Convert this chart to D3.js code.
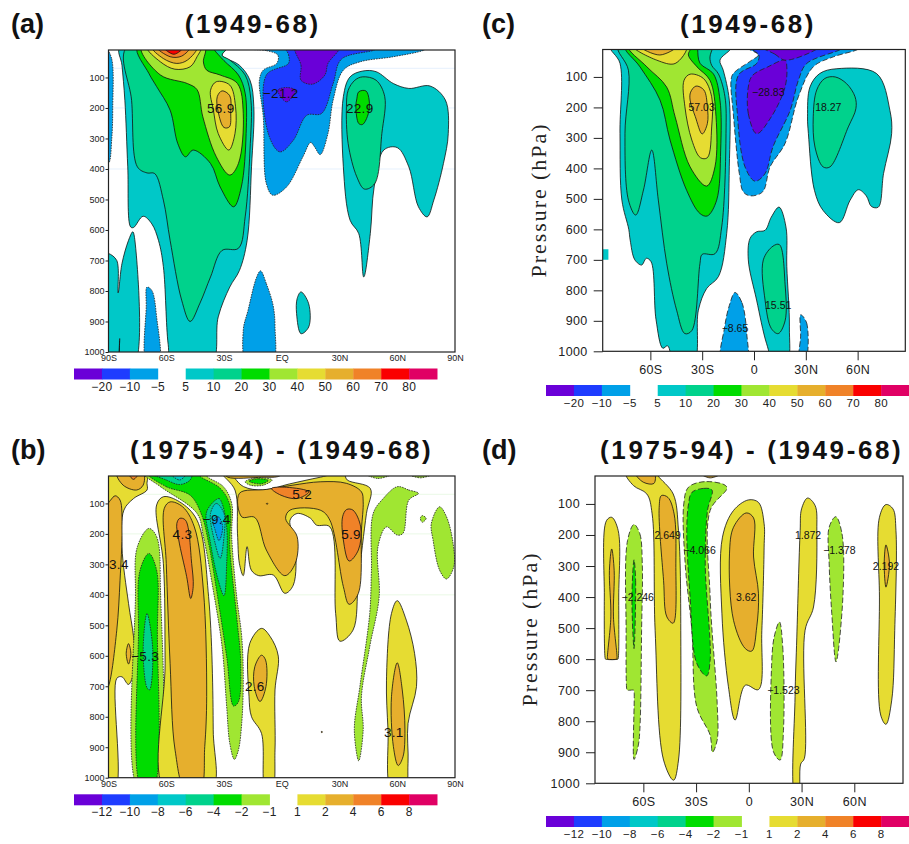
<!DOCTYPE html>
<html><head><meta charset="utf-8">
<script src="https://cdn.jsdelivr.net/npm/d3@7"></script>
<style>html,body{margin:0;padding:0;background:#fff}svg{display:block}</style>
</head><body><svg id="c" width="909" height="844" font-family="'Liberation Sans',Arial,sans-serif"></svg>
<script>
// ---------- data: contour regions as [level, [[lat, hPa], ...]] ----------
const pressureTicks = [100,200,300,400,500,600,700,800,900,1000];
const latTicksWide = [-90,-60,-30,0,30,60,90];
const latTicksNarrow = [-60,-30,0,30,60];
const faintPressures = [70,200,400];

const meanLevels = [-20,-10,-5,null,5,10,20,30,40,50,60,70,80];
const diffLevels = [-12,-10,-8,-6,-4,-2,-1,null,1,2,4,6,8];

const regionsA = [
 [-5,[[-91,5],[-88.3,40],[-87.8,200],[-88.3,300],[-90,382],[-92,382],[-92,5]]],
 [5,[[-84,0],[-83,60],[-81.5,175],[-80,393],[-78.5,590],[-77,592],[-72,555],[-67.5,580],[-64,635],[-61.5,720],[-59,975],[-57,1040],[-36.5,1040],[-33,885],[-27,787],[-22,733],[-18,635],[-15.7,393],[-14.5,196],[-16.5,109],[-22,60],[-31,28],[-30,15],[-28,0]]],
 [10,[[-80.5,0],[-78,175],[-75,393],[-70,413],[-66,415],[-61.5,502],[-58,634],[-52,830],[-47.6,900],[-42.5,840],[-37,754],[-31,667],[-22.5,660],[-19,557],[-16.5,338],[-16,175],[-19,92],[-27,43],[-31,27],[-29,10],[-28,0]]],
 [20,[[-75,0],[-69,87],[-65,130],[-58,207],[-54,317],[-50,360],[-46,338],[-37,382],[-32,459],[-25,524],[-21,459],[-18.5,284],[-19,152],[-22.5,92],[-30,45],[-35,10],[-36,0]]],
 [30,[[-73,0],[-63,92],[-49,120],[-44,140],[-41,229],[-34,360],[-27,420],[-22.5,382],[-20,218],[-23,120],[-32,92],[-39,76],[-40.7,49],[-40,0]]],
 [40,[[-70,0],[-63,49],[-55.5,73],[-47.6,65],[-44,32],[-42,0]]],
 [50,[[-67.5,0],[-61.5,38],[-54.5,54],[-49,43],[-44,0]]],
 [60,[[-65,0],[-58,32],[-52,30],[-47.6,0]]],
 [70,[[-61.5,0],[-56,24],[-51,0]]],
 [40,[[-37,142],[-34,114],[-27,125],[-24,196],[-24.3,284],[-27.5,338],[-33,284],[-35.5,207]]],
 [50,[[-33.5,163],[-31,144],[-27,160],[-26.5,213],[-27.2,262],[-30,264],[-33,213]]],
 [-5,[[-18,5],[-8,12],[-2,27],[-2.6,54],[-9.6,76],[-11.6,109],[-9.6,229],[-8,448],[-4.7,486],[2.5,459],[11,360],[15,313],[17,327],[20,353],[24,284],[26.7,174],[32,76],[40.5,49],[58,32],[74,10],[76,0],[-18,0]]],
 [-10,[[2,0],[3.5,25],[3.5,54],[-8,92],[-7,284],[-1,344],[6,306],[13,224],[20.7,218],[26.7,120],[31,40],[48,10],[50,0]]],
 [-20,[[7,0],[10,60],[10,109],[16,122],[22.4,92],[24,54],[30,0]]],
 [-20,[[-2,142],[2.5,180],[7,142],[2.5,133]]],
 [5,[[-92,677],[-90,677],[-85.7,700],[-85,806],[-83,710],[-79.6,634],[-77.4,606],[-76.6,620],[-76.5,1040],[-83.5,1040],[-84.2,956],[-85.7,1040],[-92,1040]]],
 [-5,[[-70,787],[-67.5,798],[-65,885],[-64,1040],[-70,1040],[-70.4,850]]],
 [-5,[[-11,734],[-8,776],[-4.5,847],[-3.5,918],[-5,1040],[-18,1040],[-20,929],[-17.5,863],[-13,754]]],
 [5,[[10,803],[14,842],[14,918],[10,940],[7.7,874],[8,825]]],
 [5,[[42,79],[49,81],[58,120],[66,136],[77,128],[85,174],[86.5,284],[84,382],[79,502],[75.5,557],[71,524],[66,393],[60,330],[53,338],[48,459],[46,612],[42.6,754],[40,612],[35.5,568],[32,393],[32,163],[35.5,98]]],
 [10,[[42,98],[49,109],[53.5,163],[52,284],[48.3,448],[43,466],[39,426],[34.5,317],[33.6,196],[34.5,142],[38,109]]],
 [20,[[40,147],[43.7,144],[45.4,174],[45,218],[42,254],[40,251],[38.5,196],[39,170]]]
];
const labelsA = [["56.9",-31.7,200],["\u221221.2",-0.5,150],["22.9",40.5,200]];

const regionsC = [
 [5,[[-83,0],[-77.6,55],[-77.6,285],[-76.5,504],[-72.5,600],[-71.7,635],[-69,700],[-65,717],[-62.4,695],[-59.6,706],[-56.7,897],[-52.8,990],[-50,982],[-46,1040],[-35,1040],[-32.2,865],[-27.4,794],[-20.6,755],[-15.8,613],[-14.3,395],[-14.3,176],[-17.8,78],[-19.7,45],[-13.7,10],[-13,0]]],
 [10,[[-78.5,0],[-72.7,78],[-74.7,285],[-72.7,504],[-68.5,553],[-64,471],[-59.2,340],[-55.4,504],[-50.5,713],[-44.8,865],[-40,942],[-36,932],[-31.3,713],[-30,682],[-22.6,680],[-18.7,592],[-16.2,285],[-16.8,165],[-20.6,90],[-24.5,62],[-25.5,35],[-24,5],[-24,0]]],
 [20,[[-74.6,0],[-66,67],[-54.4,176],[-48.6,307],[-39,472],[-31.3,548],[-27,556],[-21.6,504],[-19.3,340],[-19.7,176],[-23.5,90],[-31.3,55],[-32.6,10],[-32.6,0]]],
 [30,[[-72.7,0],[-62,67],[-50.6,133],[-45.7,230],[-37,395],[-27.4,458],[-22.6,395],[-22,230],[-25.5,111],[-33,67],[-38,28],[-36.7,0]]],
 [40,[[-70,0],[-56.3,45],[-45.7,56],[-39,0]]],
 [50,[[-66,0],[-54.5,28],[-44.7,0]]],
 [40,[[-40.5,111],[-37,91],[-29.3,105],[-24.5,165],[-24.5,264],[-27,365],[-31,365],[-36,307],[-40,198]]],
 [50,[[-36.7,150],[-33.6,130],[-29,143],[-27,198],[-27,253],[-30,287],[-34,230],[-37,176]]],
 [-5,[[-5,0],[2.5,28],[-1.3,45],[-12,89],[-13.3,111],[-12,220],[-8.5,417],[-6.2,477],[-2.3,490],[5,477],[9.3,395],[18,318],[25.7,165],[34.3,67],[46,34],[60,10],[62,0]]],
 [-10,[[-3,0],[2.8,28],[1.5,56],[-9,94],[-9.5,231],[-5.2,395],[0.6,442],[6.4,417],[11,329],[21,209],[25.7,111],[30.5,56],[50,10],[52,0]]],
 [-20,[[-3.3,133],[-3.3,220],[1.5,286],[10,231],[18,133],[19,67],[18,45],[8,67],[-1,96]]],
 [-20,[[4,0],[12,25],[18,45],[36,10],[38,0]]],
 [5,[[14.5,527],[18.5,592],[19,722],[20.5,920],[19,1040],[12,1040],[7.3,975],[1.5,832],[-3.3,700],[-2.3,630],[1.5,608],[6.4,603],[10,560]]],
 [10,[[5.4,700],[11,655],[14.7,650],[18,780],[18,900],[14,942],[10,925],[6.4,832]]],
 [-5,[[-11,807],[-7,840],[-4.2,942],[-4.6,1040],[-18.7,1040],[-17,920],[-14.3,850]]],
 [-5,[[27,880],[30.5,907],[29.5,1040],[26.2,1040],[27,950]]],
 [5,[[48,73],[71,89],[78.7,210],[79.7,286],[75,417],[72,527],[68,525],[65,490],[60.4,470],[55.6,505],[49.4,578],[40,538],[35,472],[31.5,286],[31,231],[32.4,133],[38,89]]],
 [10,[[47,100],[53.6,122],[58.5,165],[59,204],[54.6,264],[44,395],[40,395],[35.3,330],[34.3,231],[36.3,143],[41,105]]]
];
const patchC = [[-87.6,665],[-84.3,665],[-84.3,700],[-87.6,700]];
const labelsC = [["57.03",-30.3,200],["\u221228.83",8.3,150],["18.27",43,200],["15.51",14,850],["\u22128.65",-11,925]];

const regionsB = [
 [1,[[-92,0],[-70,0],[-70,34],[-70,56],[-77,84],[-82,122],[-83,242],[-79.6,428],[-77,537],[-76,625],[-79.6,694],[-83,669],[-85.7,674],[-86.5,1040],[-92,1040]]],
 [2,[[-92,125],[-89,90],[-86.5,75],[-84,89],[-83,187],[-84,352],[-85.7,516],[-90,700],[-92,720]]],
 [2,[[-85.7,0],[-82.4,40],[-75.4,56],[-72,40],[-72,0]]],
 [4,[[-79.6,0],[-77,21],[-74.5,0]]],
 [2,[[-79.6,560],[-78.4,592],[-79.6,627],[-80.8,592]]],
 [-1,[[-69,182],[-65,209],[-63,384],[-65.8,1040],[-74.4,1040],[-76,406],[-75,242]]],
 [-2,[[-69,264],[-65,319],[-64.6,516],[-67,1040],[-72.7,1040],[-74.4,516],[-73.6,319]]],
 [-4,[[-70,461],[-67,581],[-68.7,712],[-70,705],[-72,581]]],
 [1,[[-65,105],[-61.5,78],[-53,95],[-44,155],[-38,406],[-35.6,843],[-36.4,1040],[-60.6,1040],[-60.6,625],[-61.5,297]]],
 [2,[[-61,116],[-58,95],[-51.5,111],[-45.4,177],[-40.7,384],[-39,734],[-40,898],[-42.4,1040],[-50,1040],[-55.4,910],[-58,625],[-60,297]]],
 [4,[[-54.5,166],[-53,149],[-50,155],[-46.8,297],[-46,373],[-47.3,412],[-49.4,340],[-53.5,220]]],
 [1,[[-31,0],[-24.3,56],[-23,198],[-22,297],[-20,337],[-18,242],[-15.8,319],[-12,337],[-4.4,335],[1.6,395],[6,368],[7,231],[4.3,155],[8,133],[15,149],[18,171],[25,177],[28,461],[30.2,552],[37,516],[39.8,352],[44,133],[46,51],[34,23],[32,0],[20,14],[4,36],[-9.5,56],[-19.8,45],[-24.3,18],[-26,0]]],
 [-1,[[-72,0],[-63,45],[-44,133],[-40.7,209],[-35.6,384],[-31,570],[-28.6,767],[-27,887],[-24.6,940],[-22.5,909],[-20.8,822],[-20,680],[-20.8,537],[-23.4,406],[-26,209],[-26,100],[-30.3,45],[-39,10],[-39,0]]],
 [-2,[[-70,0],[-60,45],[-47.6,73],[-41.6,138],[-38,231],[-33.6,395],[-28.6,603],[-25,765],[-22.5,751],[-21.3,625],[-23.4,472],[-27,242],[-27,105],[-32,50],[-42.6,10],[-43,0]]],
 [-4,[[-68.4,0],[-60,23],[-53,38],[-47.6,23],[-46.8,0]]],
 [-6,[[-58,0],[-53,23],[-49.5,0]]],
 [-4,[[-39,127],[-32.7,84],[-31,100],[-28.6,177],[-28.6,297],[-30,403],[-33,352],[-37.3,220]]],
 [-6,[[-37,133],[-34,100],[-30,133],[-30,209],[-32,280],[-34.6,231]]],
 [-8,[[-35.7,155],[-33,144],[-30.7,177],[-32.6,222],[-34.6,187]]],
 [2,[[-22,67],[-20.8,144],[-14,146],[-8,253],[1.6,337],[7,297],[8,209],[2,149],[4.3,122],[20,122],[25,155],[32,373],[35,431],[39.8,395],[41.4,187],[42.3,95],[41.4,62],[33.6,34],[20,29],[5.8,40],[-8,54]]],
 [4,[[-5.3,51],[2.5,47],[14,62],[8,84],[-0.4,73]]],
 [4,[[31.6,144],[33.7,120],[37,122],[41,177],[39.8,253],[35,289],[32,220]]],
 [-1,[[-19,29],[-13,16],[-5,23],[-9.5,40],[-16.4,40]]],
 [-2,[[-17,27],[-12,19],[-7,25],[-11,36]]],
 [2,[[-30,0],[1,0],[-2,12],[-10,14],[-28,14]]],
 [-1,[[60,45],[66,56],[71,67],[66,89],[63,198],[60,204],[54.4,177],[50,242],[50.6,406],[45.7,570],[41.4,734],[42.3,843],[40,945],[37.7,843],[40.6,700],[45.7,461],[46.6,319],[47.5,133],[52.7,84]]],
 [-1,[[73,140],[75,149],[73,162],[72,149]]],
 [-1,[[82,111],[85.6,144],[89,231],[89.4,307],[85.6,348],[82,319],[78.6,220],[77.7,166]]],
 [-1,[[44,5],[50,18],[57,5]]],
 [-1,[[66,5],[72,16],[78,5]]],
 [1,[[-10.5,510],[-6,537],[-1.8,601],[-3.5,712],[-3.5,909],[-5,1040],[-8.4,1040],[-10.5,855],[-15.7,800],[-17,734],[-16.6,559]]],
 [2,[[-10.5,598],[-8.4,614],[-8.2,701],[-11.3,750],[-14.3,701],[-14,636]]],
 [1,[[60,419],[64.7,483],[69,592],[70,701],[65.6,822],[65.6,953],[64,1040],[57,1040],[55.2,843],[54.4,680],[57,461]]],
 [2,[[60,623],[62.6,712],[64,843],[63,931],[60.5,960],[58,898],[57,734]]],
 [2,[[-7.6,99],[-7.2,101],[-7.6,103],[-8,101]]],
 [2,[[20.8,848],[21.2,850],[20.8,852],[20.4,850]]]
];
const labelsB = [["3.4",-84.6,300],["\u22125.3",-71,600],["4.3",-51.6,200],["\u22129.4",-33.8,150],["5.2",10.6,70],["5.9",36,200],["2.6",-14,700],["3.1",58.2,850]];

const regionsD = [
 [1,[[-81,154],[-78,143],[-74.3,186],[-74,400],[-74.3,598],[-74.5,600],[-81.5,600],[-81.7,598],[-82.2,400]]],
 [2,[[-78,245],[-76.6,314],[-77,464],[-75,598],[-75.2,600],[-80.2,600],[-80.4,598],[-78.5,464],[-79.3,314]]],
 [-1,[[-65.3,166],[-62,196],[-60.6,293],[-61,507],[-62,829],[-63,882],[-65.3,923],[-65.3,702],[-65.5,700],[-69.2,700],[-69.4,698],[-69.8,507],[-69,218]]],
 [-2,[[-65.3,280],[-64.4,346],[-65.3,566],[-66.5,400]]],
 [1,[[-70,0],[-65.6,41],[-58,68],[-55,132],[-53.3,507],[-48.5,925],[-42.8,990],[-40,925],[-38.7,507],[-40,186],[-43,68],[-51.5,10],[-52,0]]],
 [2,[[-64.6,0],[-60,30],[-54,34],[-53.8,0]]],
 [2,[[-49.7,73],[-46,79],[-42.5,132],[-41.5,293],[-43,484],[-46.6,464],[-48.5,346],[-51,111]]],
 [2,[[-28,0],[-22,16],[-15,0]]],
 [-1,[[-34.3,46],[-24,28],[-12.5,46],[-22,121],[-22,400],[-18,743],[-18,861],[-20.7,900],[-22,845],[-29.6,754],[-32.4,507],[-36.2,293],[-37,100]]],
 [-2,[[-32.4,63],[-25.8,50],[-21,55],[-23.5,121],[-24.8,293],[-22,604],[-24,654],[-29.6,614],[-33.4,400],[-35.3,186],[-34.3,100]]],
 [1,[[-0.2,87],[5.5,95],[8.7,164],[8.7,239],[7.4,507],[5.5,698],[-2,684],[-7.8,796],[-11.6,689],[-15.3,454],[-15,207],[-8.7,121]]],
 [2,[[-1.5,129],[2.7,145],[2.7,271],[5.5,389],[4.5,496],[1.7,574],[-2,566],[-8.7,475],[-11,261],[-8.7,175]]],
 [-1,[[17.4,480],[19.3,561],[19.7,829],[17.8,925],[14,898],[13,614],[14.4,529]]],
 [1,[[33.4,81],[37.7,105],[38.7,186],[36.8,432],[32,507],[31.6,920],[29.5,938],[28.2,1040],[26.3,1040],[26.3,721],[27.3,529],[29.2,186],[30,116]]],
 [-1,[[49.5,141],[53,196],[53.5,400],[49.6,609],[47.2,454],[45.7,293],[45.7,175]]],
 [1,[[78,102],[82,116],[83.7,186],[83,507],[81.3,732],[78,810],[75,780],[74.3,400],[74.3,143]]],
 [2,[[78,232],[80,293],[78,368],[77,293]]]
];
const labelsD = [["2.649",-46.2,200],["\u22124.066",-28,250],["\u22122.246",-63.2,400],["3.62",-1.5,400],["\u22121.523",19.7,700],["1.872",33.7,200],["\u22121.378",51.5,250],["2.192",78,300]];

// ---------- palette ----------
const palette = {purple:"#6a00d8",blue:"#1e3cff",azure:"#00a0e8",teal:"#00c8c8",seagreen:"#00d28c",green:"#00dc00",lime:"#a0e632",yellow:"#e6dc32",gold:"#e6af2d",orange:"#f08228",red:"#fa0000",crimson:"#e00064"};
const ramp = Object.values(palette);
const colorMean = d3.scaleOrdinal(meanLevels.filter(d=>d!==null),ramp);
const colorDiff = d3.scaleOrdinal(diffLevels.filter(d=>d!==null),ramp);

const svg = d3.select("#c");
const slot = 27.93;

function panel(o){
  const x = d3.scaleLinear().domain(o.latDomain).range([o.l,o.r]);
  const y = d3.scaleLinear().domain([10,1000]).range([o.t,o.b]);
  const g = svg.append("g");
  const id = "clip"+o.tag;
  g.append("clipPath").attr("id",id).append("rect").attr("x",o.l).attr("y",o.t).attr("width",o.r-o.l).attr("height",o.b-o.t);
  const plot = g.append("g").attr("clip-path",`url(#${id})`);
  if(o.faint){
    plot.selectAll("line.f").data(faintPressures).join("line").attr("class","f")
      .attr("x1",o.l).attr("x2",o.r).attr("y1",d=>y(d)).attr("y2",d=>y(d))
      .attr("stroke",o.faint).attr("stroke-width",1);
  }
  const line = d3.line().x(d=>x(d[0])).y(d=>y(d[1])).curve(d3.curveCatmullRomClosed.alpha(0.5));
  plot.selectAll("path.r").data(o.regions).join("path").attr("class","r")
    .attr("d",d=>line(d[1])).attr("fill",d=>o.color(d[0]))
    .attr("stroke",d=>d[0]<0?"#222":"#111").attr("stroke-width",0.8)
    .attr("stroke-dasharray",d=>d[0]<0?o.dash:null);
  if(o.patch){
    plot.append("path").attr("d",d3.line().x(d=>x(d[0])).y(d=>y(d[1]))(o.patch)+"Z").attr("fill",o.color(5));
  }
  plot.selectAll("text.l").data(o.labels).join("text").attr("class","l")
    .attr("x",d=>x(d[1])).attr("y",d=>y(d[2])).attr("dy","0.36em").attr("text-anchor","middle")
    .attr("font-size",o.labelSize).attr("letter-spacing",o.labelSpacing).attr("fill","#111").text(d=>d[0]);
  g.append("rect").attr("x",o.l).attr("y",o.t).attr("width",o.r-o.l).attr("height",o.b-o.t)
    .attr("fill","none").attr("stroke","#222").attr("stroke-width",1.2);

  const latFmt = d=>d===0?o.zero:Math.abs(d)+(d<0?"S":"N");
  const ax = g.append("g").attr("transform",`translate(0,${o.b})`)
    .call(d3.axisBottom(x).tickValues(o.latTicks).tickFormat(latFmt).tickSize(o.xTick).tickPadding(o.xPad));
  const ay = g.append("g").attr("transform",`translate(${o.l},0)`)
    .call(d3.axisLeft(y).tickValues(pressureTicks).tickFormat(d3.format("d")).tickSize(o.yTick).tickPadding(o.yPad));
  [ax,ay].forEach(a=>{
    a.select(".domain").remove();
    a.attr("font-family",null);
    a.selectAll("text").attr("font-size",o.tickSize).attr("fill","#222").attr("letter-spacing",o.tickSpacing);
    a.attr("font-size",o.tickSize);
    a.selectAll("line").attr("stroke","#222");
  });

  // title + tag
  g.append("text").attr("x",o.titleX).attr("y",o.titleY).attr("text-anchor","middle")
    .attr("font-size",26).attr("font-weight","bold").attr("letter-spacing",2.6).attr("fill","#111").text(o.title);
  g.append("text").attr("x",o.tagX).attr("y",o.titleY).attr("font-size",27).attr("font-weight","bold").attr("fill","#111").text(`(${o.tag})`);
  if(o.yLabelX){
    g.append("text").attr("transform",`translate(${o.yLabelX},${o.yLabelY}) rotate(-90)`).attr("text-anchor","middle")
      .attr("font-family","'Liberation Serif'").attr("font-size",22).attr("letter-spacing",1.95).attr("fill","#222").text("Pressure (hPa)");
  }

  // colour bar
  const bx = d3.scaleLinear().domain([0,o.barLevels.length]).range([o.barX,o.barX+slot*o.barLevels.length]);
  const bar = g.append("g");
  const segs = o.barLevels.map((v,i)=>({v,i})).filter(d=>d.v!==null);
  bar.selectAll("rect").data(segs).join("rect")
    .attr("x",d=>bx(d.i)).attr("y",o.barY).attr("width",slot+0.4).attr("height",11).attr("fill",d=>o.color(d.v));
  bar.selectAll("text").data(segs).join("text")
    .attr("x",d=>bx(d.v<0?d.i+1:d.i)).attr("y",o.barY+22).attr("text-anchor","middle")
    .attr("font-size",o.barFont).attr("letter-spacing",0.3).attr("fill","#222")
    .text(d=>d.v<0?"\u2212"+(-d.v):d.v);
}

const wide = {latDomain:[-90,90],l:108.5,r:455,latTicks:latTicksWide,zero:"EQ",xTick:0,xPad:3,yTick:3,yPad:1,tickSize:9,tickSpacing:0,labelSize:13.5,labelSpacing:0.3,dash:"1.6,1",barX:74,barFont:12};
const narrow = {latTicks:latTicksNarrow,zero:"0",xTick:9,xPad:5,yTick:9,yPad:6,tickSize:12.5,tickSpacing:0.4,labelSize:10.5,labelSpacing:0,dash:"5.5,2.5",barX:546,barFont:11.5};

panel({...wide,tag:"a",t:50,b:352,regions:regionsA,labels:labelsA,color:colorMean,faint:"#e6f1fd",title:"(1949-68)",titleX:252.7,titleY:33,tagX:11,barLevels:meanLevels,barY:368.5});
panel({...wide,tag:"b",t:476,b:777.7,regions:regionsB,labels:labelsB,color:colorDiff,faint:"#eaf9e6",title:"(1975-94) - (1949-68)",titleX:281.7,titleY:459,tagX:11,barLevels:diffLevels,barY:794.3});
panel({...narrow,tag:"c",latDomain:[-87.6,87.6],l:602.7,r:905.3,t:49.5,b:351.3,regions:regionsC,labels:labelsC,patch:patchC,color:colorMean,title:"(1949-68)",titleX:748,titleY:33,tagX:482,barLevels:meanLevels,barY:385,yLabelX:546,yLabelY:200});
panel({...narrow,tag:"d",latDomain:[-87.5,87.7],l:595,r:903,t:476,b:783.3,regions:regionsD,labels:labelsD,color:colorDiff,title:"(1975-94) - (1949-68)",titleX:751.7,titleY:459,tagX:482,barLevels:diffLevels,barY:816,yLabelX:537,yLabelY:629});
</script></body></html>
